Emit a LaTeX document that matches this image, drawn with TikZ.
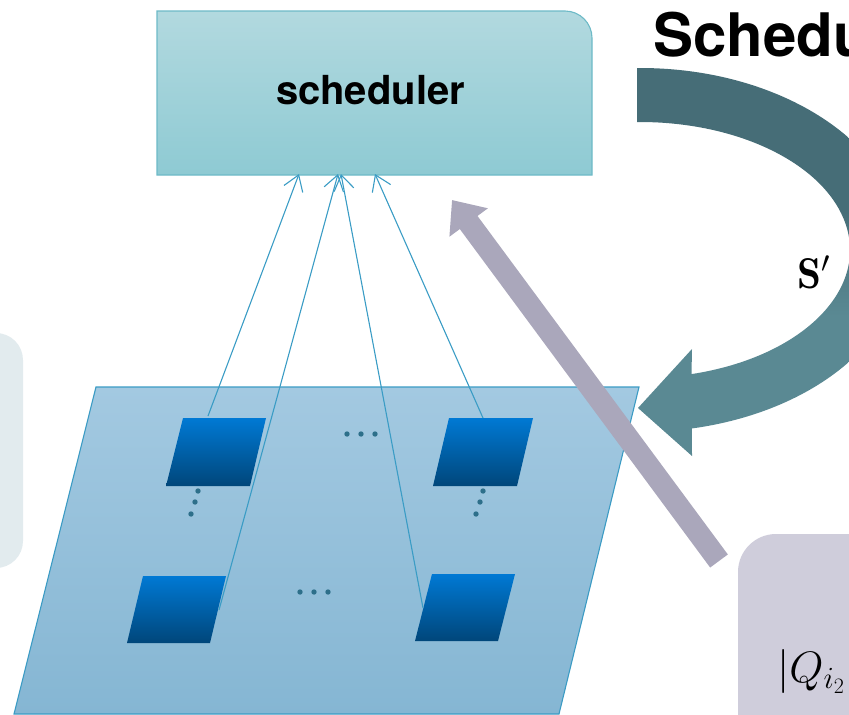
\RequirePackage{fix-cm}
\documentclass[tikz,border=0pt]{standalone}
\usepackage{fontspec}
\newfontfamily\heros{TeX Gyre Heros}
\usetikzlibrary{arrows.meta}

\definecolor{schedtop}{HTML}{B2D9DF}
\definecolor{schedbot}{HTML}{8ECAD3}
\definecolor{schedline}{HTML}{6DBAC7}
\definecolor{planetop}{HTML}{A3C9E1}
\definecolor{planebot}{HTML}{85B6D3}
\definecolor{planeline}{HTML}{3B9BC4}
\definecolor{celltop}{HTML}{0079D4}
\definecolor{cellbot}{HTML}{00467A}
\definecolor{dotc}{HTML}{2D6F8A}
\definecolor{linkc}{HTML}{3A9CC5}
\definecolor{tealdark}{HTML}{466D77}
\definecolor{teallight}{HTML}{5A8993}
\definecolor{queuearrow}{HTML}{AAA7BB}
\definecolor{queuebox}{HTML}{CFCDDB}
\definecolor{sidebox}{HTML}{E2EBEE}

% dark upper half, lighter lower half of the feedback band
\pgfdeclareverticalshading{tealband}{100bp}{color(0bp)=(teallight); color(43bp)=(teallight); color(57bp)=(tealdark); color(100bp)=(tealdark)}

\begin{document}
\begin{tikzpicture}[x=1pt,y=1pt,
  cell/.style={top color=celltop,bottom color=cellbot},
  dotmark/.style={fill=dotc},
  link/.style={draw=linkc,line width=1.1pt,-{Straight Barb[length=15pt,width=20pt]}},
  heading/.style={font=\heros\bfseries\fontsize{60}{72}\selectfont,anchor=base west,inner sep=0pt},
  label/.style={font=\heros\bfseries\fontsize{40}{48}\selectfont,anchor=base,inner sep=0pt},
  mathlabel/.style={anchor=base west,inner sep=0pt}]

\useasboundingbox (0,0) rectangle (849,-715);
\clip (0,0) rectangle (849,-715);

% side panel on the left
\fill[sidebox,rounded corners=27pt] (-80,-333) rectangle (23,-568);

% scheduler box, only the top right corner rounded
\draw[schedline,line width=1.1pt,top color=schedtop,bottom color=schedbot]
  (157,-175) -- (157,-11) -- (565,-11)
  arc[start angle=90,end angle=0,radius=27pt] -- (592,-175) -- cycle;
\node[label] (sched) at (370.5,-104) {scheduler};

% network plane
\draw[planeline,line width=1.1pt,top color=planetop,bottom color=planebot]
  (96,-387) -- (639,-387) -- (559,-714) -- (14,-714) -- cycle;

% cells
\path[cell] (183,-418) -- (266,-418) -- (250,-486) -- (166,-486) -- cycle;
\path[cell] (449,-418) -- (533,-418) -- (517,-486) -- (433,-486) -- cycle;
\path[cell] (143,-576) -- (226,-576) -- (210,-643) -- (127,-643) -- cycle;
\path[cell] (432,-574) -- (515,-574) -- (498,-641) -- (415,-641) -- cycle;

% ellipsis dots
\foreach \x/\y in {347/434,361/434,375/434, 300/592,314/592,328/592,
                   198/491,195/502,191/514, 483/491,480/502,476/514}
  \fill[dotmark] (\x,-\y) circle[radius=2.7pt];

% links from cells to the scheduler
\coordinate (c1) at (208,-416);
\coordinate (c2) at (219,-610);
\coordinate (c3) at (423,-608);
\coordinate (c4) at (483,-418);
\coordinate (t1) at (299,-174);
\coordinate (t2) at (338,-174);
\coordinate (t3) at (341,-174);
\coordinate (t4) at (375,-174);
\draw[link] (c1) -- (t1);
\draw[link] (c2) -- (t2);
\draw[link] (c3) -- (t3);
\draw[link] (c4) -- (t4);

% curved decision arrow back to the plane
\path[shading=tealband]
  (637,-68) -- (640,-68)
  arc[start angle=90,end angle=-78.7,x radius=265pt,y radius=182pt]
  -- (692,-456) -- (638,-408) -- (692,-349) -- (691.5,-374.1)
  arc[start angle=-75.8,end angle=90,x radius=210pt,y radius=128pt]
  -- (637,-122) -- cycle;

% queue report arrow
\coordinate (qtail) at (719,-561);
\coordinate (qtip) at (452,-200);
\draw[queuearrow,line width=22pt,-{Triangle[length=28pt,width=46pt]}] (qtail) -- (qtip);

% queue panel on the lower right
\fill[queuebox,rounded corners=38pt] (738,-534) rectangle (950,-800);

% texts
\node[heading] (title) at (653,-56) {Schedu};
\node[mathlabel,font=\fontsize{43}{52}\selectfont] (dec) at (797,-288) {$\mathbf{S}'$};
\node[mathlabel,font=\fontsize{44}{53}\selectfont] (queue) at (777,-682) {$|Q_{i_2}$};
\end{tikzpicture}
\end{document}
